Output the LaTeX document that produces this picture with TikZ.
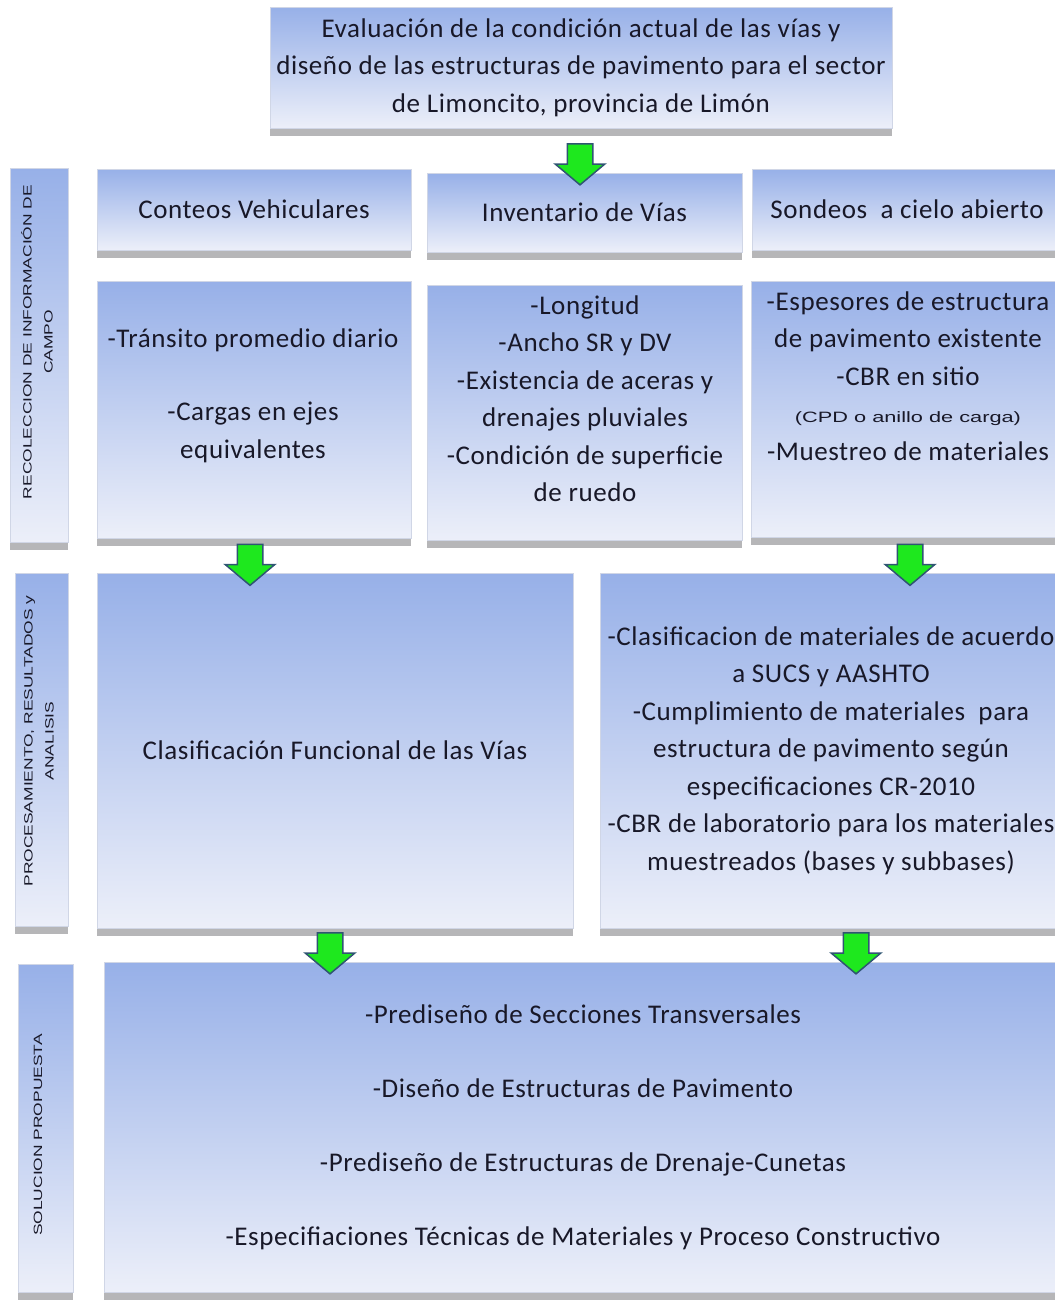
\documentclass[tikz,border=0pt]{standalone}
\usepackage{fontspec}
\setmainfont{Carlito}[LetterSpace=2.2]
\newfontfamily\sidefont[FakeStretch=1.45]{Liberation Sans}
\usetikzlibrary{shapes.arrows,shadows}

\definecolor{panelTop}{RGB}{151,176,232}
\definecolor{panelBot}{RGB}{236,239,249}
\definecolor{panelEdge}{RGB}{208,214,230}
\definecolor{shadowGrey}{RGB}{182,182,184}
\definecolor{ink}{RGB}{24,24,40}
\definecolor{arrowGreen}{RGB}{30,232,30}
\definecolor{arrowEdge}{RGB}{47,85,114}

\begin{document}
\begin{tikzpicture}[x=1pt,y=-1pt,
  panel box/.style={rectangle,inner sep=0pt,outer sep=0pt,
    top color=panelTop,bottom color=panelBot,draw=panelEdge,line width=0.6pt,
    general shadow={fill=shadowGrey,shadow yshift=-8pt},
    align=center,text=ink,font=\fontsize{27}{37.5}\selectfont},
  body text/.style={align=center,inner sep=0pt,text=ink,
    font=\fontsize{27}{37.5}\selectfont},
  side text/.style={align=center,inner sep=0pt,text=ink,rotate=90,
    font=\sidefont\fontsize{12}{21}\selectfont},
  green arrow/.style={single arrow,rotate=-90,fill=arrowGreen,draw=arrowEdge,
    line width=1.5pt,inner sep=0pt,text height=24pt,text depth=0pt,
    minimum height=41pt,single arrow head extend=12pt,
    single arrow tip angle=100}]

  \useasboundingbox (0,0) rectangle (1055,1302);
  \clip (0,0) rectangle (1055,1302);

  % title
  \node[panel box,minimum width=622pt,minimum height=121pt] (titulo) at (581,67.5)
    {Evaluación de la condición actual de las vías y\\
     diseño de las estructuras de pavimento para el sector\\
     de Limoncito, provincia de Limón};

  % side labels
  \node[panel box,minimum width=58pt,minimum height=374pt] (campo) at (39,355) {};
  \node[side text] (campoTxt) at (37,342) {RECOLECCION DE INFORMACIÓN DE\\CAMPO};
  \node[panel box,minimum width=53pt,minimum height=353pt] (proceso) at (41.5,749.5) {};
  \node[side text] (procesoTxt) at (39,741) {PROCESAMIENTO, RESULTADOS y\\ANALISIS};
  \node[panel box,minimum width=55pt,minimum height=328pt] (solucion) at (45.5,1128) {};
  \node[side text] (solucionTxt) at (38,1135) {SOLUCION PROPUESTA};

  % field data
  \node[panel box,minimum width=314pt,minimum height=81pt] (conteos) at (254,209.5)
    {Conteos Vehiculares};
  \node[panel box,minimum width=315pt,minimum height=79pt] (inventario) at (584.5,212.5)
    {Inventario de Vías};
  \node[panel box,minimum width=310pt,minimum height=81pt] (sondeos) at (907,209.5)
    {Sondeos\ \ a cielo abierto};

  \node[panel box,minimum width=314pt,minimum height=257pt] (transito) at (254,409.5) {};
  \node[body text] (transitoTxt) at (253,395.5)
    {-Tránsito promedio diario\\[36pt]-Cargas en ejes\\equivalentes};
  \node[panel box,minimum width=315pt,minimum height=255pt] (vias) at (584.5,412.5) {};
  \node[body text] (viasTxt) at (585,398.5)
    {-Longitud\\-Ancho SR y DV\\-Existencia de aceras y\\drenajes pluviales\\
     -Condición de superficie\\de ruedo};
  \node[panel box,minimum width=311pt,minimum height=256pt] (espesores) at (906.5,409) {};
  \node[body text] (espesoresTxt) at (908,376)
    {-Espesores de estructura\\de pavimento existente\\-CBR en sitio\\
     {\sidefont\fontsize{15}{37.5}\selectfont(CPD o anillo de carga)}\\
     -Muestreo de materiales};

  % processing
  \node[panel box,minimum width=476pt,minimum height=355pt] (funcional) at (335,750.5)
    {Clasificación Funcional de las Vías};
  \node[panel box,minimum width=462pt,minimum height=355pt] (materiales) at (831,750.5)
    {-Clasificacion de materiales de acuerdo\\a SUCS y AASHTO\\
     -Cumplimiento de materiales\ \ para\\estructura de pavimento según\\
     especificaciones CR-2010\\-CBR de laboratorio para los materiales\\
     muestreados (bases y subbases)};

  % proposal
  \node[panel box,minimum width=958pt,minimum height=330pt] (propuesta) at (583,1127)
    {-Prediseño de Secciones Transversales\\[36.5pt]
     -Diseño de Estructuras de Pavimento\\[36.5pt]
     -Prediseño de Estructuras de Drenaje-Cunetas\\[36.5pt]
     -Especifiaciones Técnicas de Materiales y Proceso Constructivo};

  % arrows on top
  \node[green arrow] (flecha1) at (580,159) {};
  \node[green arrow] (flecha2) at (250,559.5) {};
  \node[green arrow] (flecha3) at (910,559.5) {};
  \node[green arrow] (flecha4) at (330,948) {};
  \node[green arrow] (flecha5) at (856,948) {};
\end{tikzpicture}
\end{document}
